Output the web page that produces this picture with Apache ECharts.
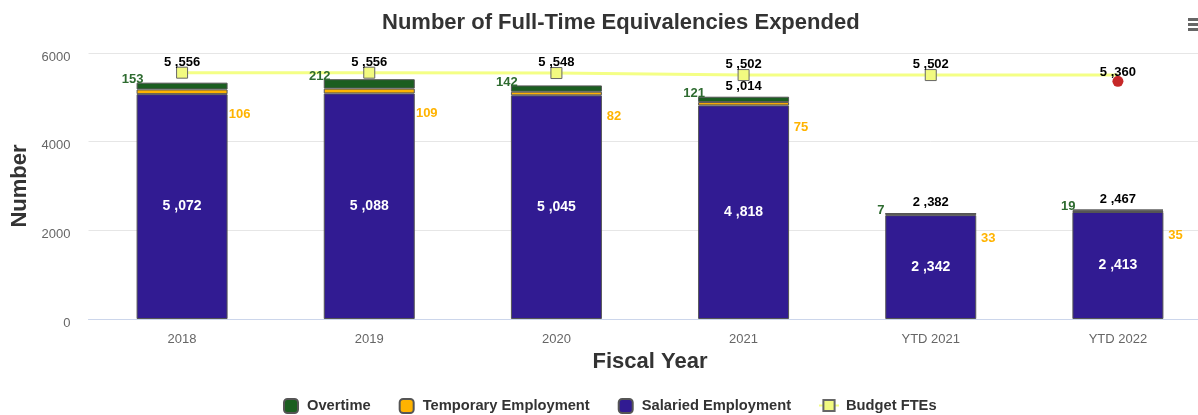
<!DOCTYPE html>
<html>
<head>
<meta charset="utf-8">
<script src="https://cdn.jsdelivr.net/npm/echarts@6/dist/echarts.min.js"></script>
<style>
html,body{margin:0;padding:0;background:#fff;overflow:hidden;width:1198px;height:415px;}
#chart{width:1240px;height:415px;}
</style>
</head>
<body>
<div id="chart"></div>
<script>
var categories = ['2018', '2019', '2020', '2021', 'YTD 2021', 'YTD 2022'];
var salaried = [5072, 5088, 5045, 4818, 2342, 2413];
var temporary = [106, 109, 82, 75, 33, 35];
var overtime = [153, 212, 142, 121, 7, 19];
var budget = [5556, 5556, 5548, 5502, 5502, 5502];
var budgetLabelled = [true, true, true, true, true, false];
var budget2022 = [null, null, null, null, null, 5360];
var showTotal = [false, false, false, true, true, true];
var yTicks = [0, 2000, 4000, 6000];

function fmt(v) {
  if (v < 1000) return String(v);
  var r = v % 1000;
  return Math.floor(v / 1000) + ' ,' + (r < 10 ? '00' : r < 100 ? '0' : '') + r;
}

var totals = salaried.map(function (s, i) { return s + temporary[i] + overtime[i]; });
var totalMarks = totals.map(function (t, i) { return showTotal[i] ? t : null; });

var budgetData = budget.map(function (v, i) {
  if (!budgetLabelled[i]) {
    return { value: v, symbol: 'none', label: { show: false } };
  }
  return v;
});

var FONT = '"Liberation Sans", Arial, sans-serif';
var legendText = { fontSize: 14.7, fontWeight: 'bold', color: '#333', fontFamily: FONT };
var chart = echarts.init(document.getElementById('chart'));
chart.setOption({
  animation: false,
  textStyle: { fontFamily: FONT },
  title: {
    text: 'Number of Full-Time Equivalencies Expended',
    left: 377, top: 7,
    textStyle: { fontSize: 22, fontWeight: 'bold', color: '#333', fontFamily: FONT }
  },
  graphic: [
    { type: 'rect', left: 1188, top: 18, shape: { width: 12, height: 3 }, style: { fill: '#666' } },
    { type: 'rect', left: 1188, top: 23, shape: { width: 12, height: 3 }, style: { fill: '#666' } },
    { type: 'rect', left: 1188, top: 28, shape: { width: 12, height: 3 }, style: { fill: '#666' } }
  ],
  legend: [
    {
      data: ['Overtime', 'Temporary Employment', 'Salaried Employment'],
      left: 283, top: 398, padding: 0,
      itemWidth: 14, itemHeight: 14, itemGap: 28,
      textStyle: Object.assign({ padding: [0, 0, 0, 4] }, legendText)
    },
    {
      data: ['Budget FTEs'],
      left: 818, top: 398, padding: 0,
      itemWidth: 20, itemHeight: 14,
      textStyle: Object.assign({ padding: [0, 0, 0, 2] }, legendText)
    }
  ],
  grid: { left: 88.5, width: 1123, top: 53, height: 266 },
  xAxis: {
    type: 'category',
    data: categories,
    name: 'Fiscal Year',
    nameLocation: 'middle',
    nameGap: 32,
    nameTextStyle: { fontSize: 22, fontWeight: 'bold', color: '#333', fontFamily: FONT },
    axisLine: { lineStyle: { color: '#ccd6eb' } },
    axisTick: { show: false },
    axisLabel: { color: '#666', fontSize: 13, margin: 14, fontFamily: FONT }
  },
  yAxis: {
    type: 'value',
    min: yTicks[0], max: yTicks[yTicks.length - 1], interval: yTicks[1] - yTicks[0],
    name: 'Number',
    nameLocation: 'middle',
    nameGap: 54,
    nameTextStyle: { fontSize: 22, fontWeight: 'bold', color: '#333', fontFamily: FONT },
    axisLine: { show: false },
    axisTick: { show: false },
    axisLabel: {
      color: '#666', fontSize: 13, margin: 18, fontFamily: FONT,
      formatter: function (v) { return '{v|' + v + '}'; },
      rich: { v: { color: '#666', fontSize: 13, fontFamily: FONT, padding: [8, 0, 0, 0] } }
    },
    splitLine: { lineStyle: { color: '#e6e6e6' } }
  },
  series: [
    {
      name: 'Salaried Employment', type: 'bar', stack: 'fte', barWidth: 91, z: 7,
      data: salaried,
      itemStyle: { color: '#311b92', borderColor: '#555', borderWidth: 1 },
      label: { show: true, position: 'inside', color: '#fff', fontSize: 14, fontWeight: 'bold',
        fontFamily: FONT, formatter: function (p) { return fmt(p.value); } }
    },
    {
      name: 'Temporary Employment', type: 'bar', stack: 'fte', barWidth: 91, z: 7,
      data: temporary,
      itemStyle: { color: '#ffb300', borderColor: '#555', borderWidth: 1 },
      label: { show: true, position: [103, 25], align: 'center', verticalAlign: 'middle',
        color: '#ffb300', fontSize: 13, fontWeight: 'bold', fontFamily: FONT }
    },
    {
      name: 'Overtime', type: 'bar', stack: 'fte', barWidth: 91, z: 7,
      data: overtime,
      itemStyle: { color: '#1b5e20', borderColor: '#555', borderWidth: 1 },
      label: { show: true, position: [-4, -3], align: 'center', verticalAlign: 'middle',
        color: '#2e6b30', fontSize: 13, fontWeight: 'bold', fontFamily: FONT }
    },
    {
      name: 'Total', type: 'scatter', data: totalMarks, symbolSize: 2, z: 8,
      itemStyle: { color: 'rgba(0,0,0,0)', opacity: 1 },
      label: { show: true, position: 'top', distance: 3, color: '#000', fontSize: 13,
        fontWeight: 'bold', fontFamily: FONT, formatter: function (p) { return fmt(p.value); } }
    },
    {
      name: 'Budget FTEs', type: 'line', data: budgetData, z: 5,
      symbol: 'rect', symbolSize: 11,
      lineStyle: { color: '#f4ff85', width: 3 },
      itemStyle: { color: '#f2fa80', borderColor: '#666', borderWidth: 1 },
      label: { show: true, position: 'top', distance: -2, color: '#000', fontSize: 13,
        fontWeight: 'bold', fontFamily: FONT, formatter: function (p) { return fmt(p.value); } }
    },
    {
      name: 'Budget 2022', type: 'scatter', data: budget2022, z: 6,
      symbol: 'circle', symbolSize: 11,
      itemStyle: { color: '#c62828', opacity: 1 },
      label: { show: true, position: 'top', distance: -3, color: '#000', fontSize: 13,
        fontWeight: 'bold', fontFamily: FONT, formatter: function (p) { return fmt(p.value); } }
    }
  ]
});
</script>
</body>
</html>
